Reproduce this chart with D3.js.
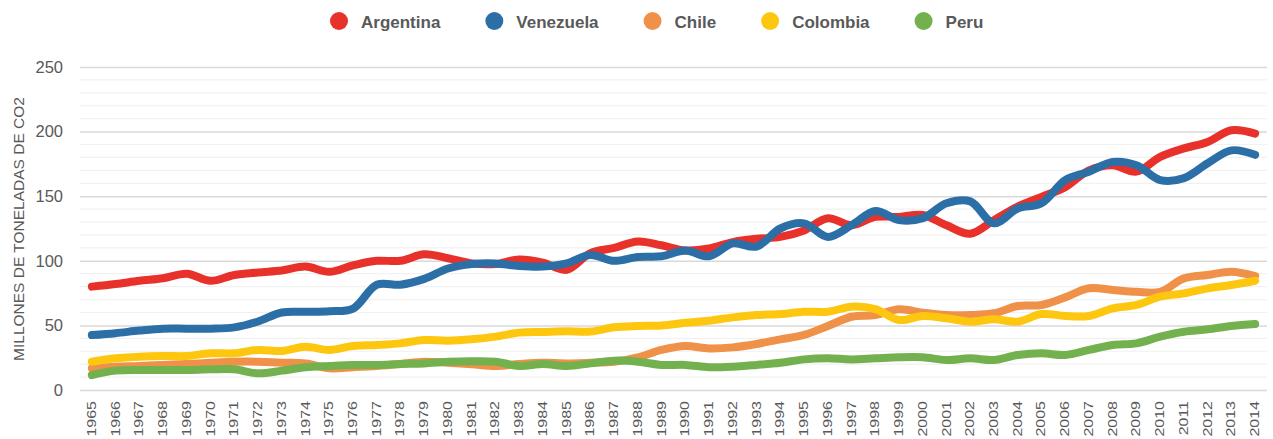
<!DOCTYPE html>
<html>
<head>
<meta charset="utf-8">
<script src="https://cdn.jsdelivr.net/npm/d3@7"></script>
<style>
    body { margin: 0; background: #fff; }
    svg { display: block; }
</style>
</head>
<body>
<svg id="chart" width="1273" height="439"></svg>
<script>
    let years = d3.range(1965, 2015)

    let argentina = [80, 82, 84.5, 86.5, 90, 84.5, 89, 91, 92.5, 95.5, 91.5, 96.5, 100, 100, 105, 102,
        98, 97.5, 101, 98.5, 93, 106, 110, 115, 112, 108, 109.5, 114.5, 117, 118.5, 123.5, 133, 127.5, 134,
        134, 135.5, 127.5, 121, 131.5, 142, 149.5, 157, 170, 174, 169, 180.5, 187, 192, 201, 198.5]
    let venezuela = [42.5, 44, 46, 47.5, 47.5, 47.5, 48.5, 53, 60, 60.5, 61, 63, 81.5, 81.5, 86, 94,
        97.5, 98, 96, 95.5, 98, 104.5, 100, 103, 103.5, 108, 103.5, 113.5, 111, 125, 129, 118.5, 127.5, 138.5,
        131.5, 133, 144.5, 146, 129, 140.5, 144.5, 162.5, 169, 176.5, 174, 162.5, 164, 175.5, 185.5, 182]
    let chile = [16.8, 18, 18.6, 19.4, 20.1, 21.1, 21.9, 21.9, 21.1, 20.6, 16.8, 17.6, 18.6, 20.1, 21.9, 21.1,
        20, 18.6, 20.1, 21.1, 20.6, 21.1, 21.9, 25.3, 31, 34, 32.2, 33, 35.6, 39.2, 42.6, 49.5, 56.7, 58,
        62.5, 59.8, 58, 58, 59.4, 65, 65.8, 71.7, 78.7, 77.4, 76, 76, 86.4, 89, 91.6, 88.2]
    let colombia = [21.9, 24.5, 25.8, 26.3, 26.3, 28.4, 28.4, 31, 30.2, 33.5, 31, 34, 34.8, 36.1, 38.7, 38.2,
        39.3, 41.3, 44.4, 44.9, 45.4, 45.2, 48.5, 49.5, 50, 52, 53.6, 56.2, 58, 58.8, 60.6, 60.6, 64.5, 62.6,
        54.2, 57.3, 55.5, 52.9, 54.7, 52.9, 58.8, 57.3, 57.3, 63.2, 65.8, 72.2, 74.8, 78.7, 81.3, 84.6]
    let peru = [11.6, 15, 15.5, 15.5, 15.5, 16, 16, 12.9, 15, 17.6, 18.6, 19.4, 19.4, 20.1, 20.6, 21.9,
        22.3, 21.9, 18.6, 20.1, 18.6, 20.6, 22.7, 21.9, 19.4, 19.4, 17.6, 18, 19.4, 21.1, 23.7, 24.5, 23.7, 24.5,
        25.3, 25.3, 23.2, 24.5, 23.2, 27.1, 28.4, 27.1, 31, 34.8, 36.1, 41.3, 45.1, 47, 49.5, 51]

    let seriesNames = ['Argentina', 'Venezuela', 'Chile', 'Colombia', 'Peru']
    let seriesValues = [argentina, venezuela, chile, colombia, peru]
    let seriesColors = ['#e8312a', '#2c6fa7', '#f0914a', '#fec70f', '#73b14f']

    let yTicks = [0, 50, 100, 150, 200, 250]
    let yMinorTicks = d3.range(0, 251, 10)
    let yTitle = 'MILLONES DE TONELADAS DE CO2'

    let svg = d3.select('#chart')
    let textColor = '#595959'
    let font = 'Arial, "Liberation Sans", sans-serif'

    let x = d3.scalePoint()
        .domain(years)
        .range([80, 1267])
        .padding(0.5)

    let y = d3.scaleLinear()
        .domain([0, 250])
        .range([390, 67])

    // light grid every 10, darker every 50
    svg.append('g')
        .selectAll('line')
        .data(yMinorTicks.filter(d => d % 50 != 0))
        .join('line')
        .attr('x1', 80)
        .attr('x2', 1267)
        .attr('y1', d => y(d))
        .attr('y2', d => y(d))
        .attr('stroke', '#f1f1f1')
        .attr('stroke-width', 1.2)

    let yAxis = svg.append('g')
        .attr('transform', 'translate(80,0)')
        .call(d3.axisLeft(y).tickValues(yTicks).tickSize(-1187).tickPadding(17))
    yAxis.select('.domain').remove()
    yAxis.selectAll('line')
        .attr('stroke', '#d9d9d9')
        .attr('stroke-width', 1.5)
    yAxis.selectAll('text')
        .style('font-family', font)
        .style('font-size', '16.5px')
        .attr('fill', textColor)

    svg.append('text')
        .attr('transform', 'translate(24,229) rotate(-90)')
        .attr('text-anchor', 'middle')
        .style('font-family', font)
        .style('font-size', '15.5px')
        .attr('fill', textColor)
        .text(yTitle)

    // year labels, narrow and rotated
    svg.append('g')
        .selectAll('text')
        .data(years)
        .join('text')
        .attr('transform', d => `translate(${x(d) + 4},401) rotate(-90) scale(1,0.75)`)
        .attr('text-anchor', 'end')
        .style('font-family', font)
        .style('font-size', '16px')
        .attr('fill', textColor)
        .text(d => d)

    let line = d3.line()
        .x((d, i) => x(years[i]))
        .y(d => y(d))
        .curve(d3.curveCatmullRom)

    svg.append('g')
        .selectAll('path')
        .data(seriesValues)
        .join('path')
        .attr('d', d => line(d))
        .attr('fill', 'none')
        .attr('stroke', (d, i) => seriesColors[i])
        .attr('stroke-width', 8)
        .attr('stroke-linecap', 'round')
        .attr('stroke-linejoin', 'round')

    // legend, laid out from measured text widths
    let legend = svg.append('g')
    let cursor = 0
    seriesNames.forEach((name, i) => {
        let item = legend.append('g').attr('transform', `translate(${cursor},0)`)
        item.append('circle')
            .attr('cx', 0)
            .attr('cy', 21)
            .attr('r', 9)
            .attr('fill', seriesColors[i])
        let label = item.append('text')
            .attr('x', 22)
            .attr('y', 27.5)
            .style('font-family', font)
            .style('font-weight', 'bold')
            .style('font-size', '17px')
            .attr('fill', textColor)
            .text(name)
        cursor += 22 + label.node().getComputedTextLength() + 54
    })
    legend.attr('transform', 'translate(339,0)')
</script>
</body>
</html>
